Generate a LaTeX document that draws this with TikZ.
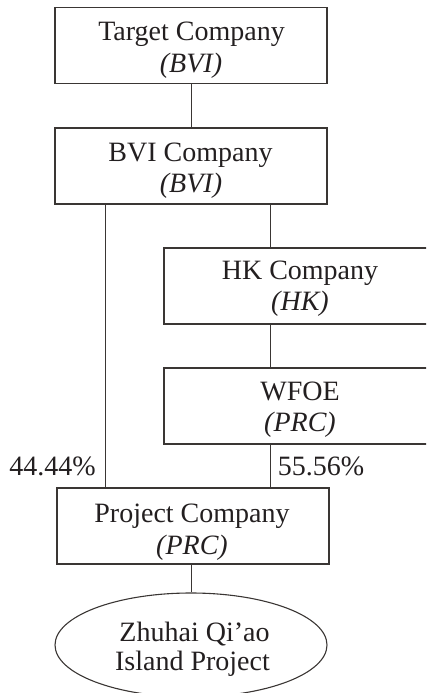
\documentclass[tikz,border=0pt]{standalone}
\usepackage{fontspec}
\setmainfont{Liberation Serif}
\usetikzlibrary{shapes.geometric}
\definecolor{ink}{HTML}{231F20}
\definecolor{edge}{HTML}{3A3634}
\tikzset{
  box/.style={draw=edge, line width=1.1pt, rectangle, minimum width=272pt, minimum height=76pt, inner sep=0pt},
  oval/.style={draw=edge, line width=1.1pt, ellipse, minimum width=272pt, minimum height=104pt, inner sep=0pt},
  txt/.style={anchor=base, inner sep=0pt, text=ink, font=\fontsize{28}{32}\selectfont},
  link/.style={draw=edge, line width=0.9pt},
}
\begin{document}
\begin{tikzpicture}[x=1pt,y=-1pt]
\useasboundingbox (0,0) rectangle (426,693);
\clip (0,0) rectangle (426,693);
% boxes
\node[box] (target) at (191,45.5) {};
\node[box] (bvi) at (191,166) {};
\node[box] (hk) at (300,286) {};
\node[box] (wfoe) at (300,406) {};
\node[box] (proj) at (193,526) {};
\node[oval] (zh) at (191,645) {};
% texts
\node[txt] (t1) at (191.5,41) {Target Company};
\node[txt] (t2) at (191,73) {\textit{(BVI)}};
\node[txt] (b1) at (190.5,161.7) {BVI Company};
\node[txt] (b2) at (191,192.5) {\textit{(BVI)}};
\node[txt] (h1) at (300,279.3) {HK Company};
\node[txt] (h2) at (300,310) {\textit{(HK)}};
\node[txt] (w1) at (300,400.7) {WFOE};
\node[txt] (w2) at (300,431.5) {\textit{(PRC)}};
\node[txt] (p1) at (192,522.7) {Project Company};
\node[txt] (p2) at (192,554) {\textit{(PRC)}};
\node[txt] (z1) at (194.5,641.7) {Zhuhai Qi’ao};
\node[txt] (z2) at (192.5,670) {Island Project};
\node[txt] (pl) at (52.5,475) {44.44\%};
\node[txt] (pr) at (321,475) {55.56\%};
% connectors
\draw[link] (target.south) -- (bvi.north);
\draw[link] (bvi.south -| 105,0) -- (proj.north -| 105,0);
\draw[link] (bvi.south -| 270,0) -- (hk.north -| 270,0);
\draw[link] (hk.south -| 270,0) -- (wfoe.north -| 270,0);
\draw[link] (wfoe.south -| 270,0) -- (proj.north -| 270,0);
\draw[link] (proj.south -| 191,0) -- (zh.north);
\end{tikzpicture}
\end{document}
